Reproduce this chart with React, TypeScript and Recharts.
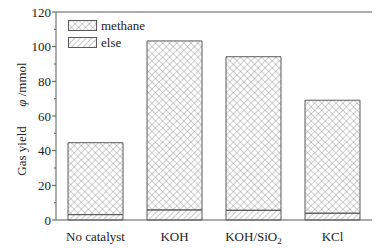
import { BarChart, Bar, XAxis, YAxis, ReferenceLine } from 'recharts'

const catalysts = ['No catalyst', 'KOH', 'KOH/SiO2', 'KCl']
const elseYield = [3.1, 5.8, 5.6, 3.9]
const totalYield = [44.6, 103.3, 94.2, 69.1]
const yTicks = [0, 10, 20, 30, 40, 50, 60, 70, 80, 90, 100, 110, 120]

const data = catalysts.map((name, i) => ({
  name,
  else: elseYield[i],
  methane: +(totalYield[i] - elseYield[i]).toFixed(1),
}))

const FONT = '"Times New Roman", "Liberation Serif", "DejaVu Serif", serif'
const AXIS = '#5a5a5a'
const txt = { fontFamily: FONT, fontSize: 13, fill: '#222' }

const XTick = ({ x, y, payload }: any) => {
  const v: string = payload.value
  const sub = v.endsWith('2') && v.includes('SiO')
  return (
    <text x={x} y={y + 13} textAnchor="middle" style={txt}>
      {sub ? (
        <>
          {v.slice(0, -1)}
          <tspan style={{ fontSize: 9 }} dy={3}>2</tspan>
        </>
      ) : v}
    </text>
  )
}

const YTick = ({ x, y, payload }: any) => {
  const major = payload.value % 20 === 0
  return (
    <g>
      <line x1={x - (major ? 4 : 2)} x2={x} y1={y} y2={y} stroke={AXIS} strokeWidth={1} />
      {major && (
        <text x={x - 5} y={y + 4.5} textAnchor="end" style={txt}>
          {payload.value}
        </text>
      )}
    </g>
  )
}

const YLabel = ({ viewBox }: any) => {
  const cx = 26
  const cy = viewBox.y + viewBox.height / 2 + 3
  return (
    <text x={cx} y={cy} transform={`rotate(-90 ${cx} ${cy})`} textAnchor="middle" style={txt}>
      Gas yield{'\u00a0\u00a0\u00a0\u00a0\u00a0\u00a0'}
      <tspan style={{ fontStyle: 'italic' }}>φ</tspan> /mmol
    </text>
  )
}

const LegendBox = () => (
  <svg width={160} height={40} style={{ position: 'absolute', left: 68, top: 16 }}>
    <rect x={0.5} y={4.5} width={28} height={10} fill="url(#cross)" stroke={AXIS} />
    <text x={33} y={14} style={txt}>methane</text>
    <rect x={0.5} y={21.5} width={28} height={10} fill="url(#diag)" stroke={AXIS} />
    <text x={33} y={31} style={txt}>else</text>
  </svg>
)

export default function App() {
  return (
    <div style={{ position: 'absolute', left: 0, top: 0, width: 386, height: 248, background: '#fff' }}>
      <BarChart width={386} height={248} data={data} margin={{ top: 12, right: 14, bottom: 0, left: 0 }}>
        <defs>
          <pattern id="cross" width={5} height={5} patternUnits="userSpaceOnUse" patternTransform="rotate(45)">
            <line x1={0} y1={0} x2={0} y2={5} stroke="#8a8a8a" strokeWidth={0.8} />
            <line x1={0} y1={0} x2={5} y2={0} stroke="#8a8a8a" strokeWidth={0.8} />
          </pattern>
          <pattern id="diag" width={4} height={4} patternUnits="userSpaceOnUse" patternTransform="rotate(45)">
            <line x1={0} y1={0} x2={0} y2={4} stroke="#8a8a8a" strokeWidth={0.9} />
          </pattern>
        </defs>
        <XAxis dataKey="name" height={28} tick={<XTick />} tickLine={false} axisLine={{ stroke: AXIS }} interval={0} />
        <YAxis
          domain={[0, 120]}
          ticks={yTicks}
          interval={0}
          width={56}
          tickSize={0}
          tickMargin={0}
          tick={<YTick />}
          axisLine={{ stroke: AXIS }}
          label={<YLabel />}
        />
        <YAxis yAxisId="right" orientation="right" domain={[0, 120]} width={0} tick={false} tickLine={false} axisLine={{ stroke: AXIS }} />
        <ReferenceLine y={120} stroke={AXIS} />
        <Bar dataKey="else" stackId="g" fill="url(#diag)" stroke={AXIS} strokeWidth={1} barSize={55} isAnimationActive={false} />
        <Bar dataKey="methane" stackId="g" fill="url(#cross)" stroke={AXIS} strokeWidth={1} barSize={55} isAnimationActive={false} />
      </BarChart>
      <LegendBox />
    </div>
  )
}
